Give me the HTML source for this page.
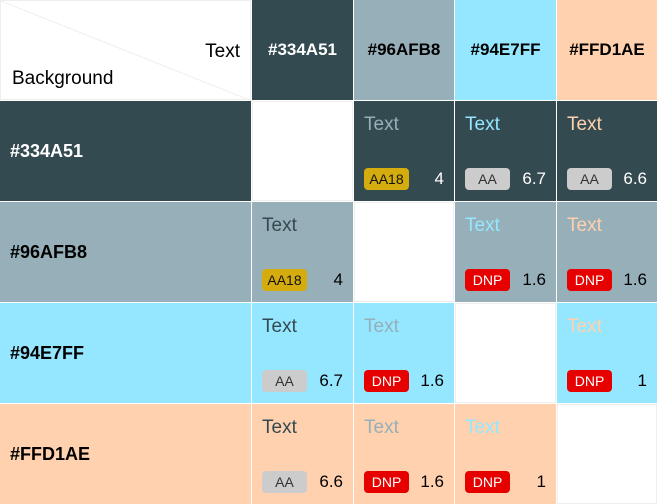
<!DOCTYPE html>
<html><head><meta charset="utf-8"><style>
body{margin:0;width:657px;height:504px;background:#fff;overflow:hidden;font-family:"Liberation Sans",sans-serif;position:relative}
.c{position:absolute;box-sizing:border-box}
.hd{font-weight:bold;font-size:17px;display:flex;align-items:center;justify-content:center}
.rl{font-weight:bold;font-size:18px;display:flex;align-items:center;padding-left:10px}
.t{position:absolute;left:10px;top:13px;font-size:19px}
.b{position:absolute;left:10px;top:67px;height:22px;line-height:22px;border-radius:4px;font-size:14px;text-align:center;width:45px}
.n{position:absolute;right:10px;top:67px;line-height:22px;font-size:17px}
</style></head><body>
<div class="c" style="left:0;top:0;width:251px;height:100px;border:1px solid #eee">
<svg width="251" height="100" style="position:absolute;left:0;top:0"><line x1="0" y1="0" x2="251" y2="100" stroke="#eee" stroke-width="1"/></svg>
<span style="position:absolute;right:10px;top:40px;font-size:19px">Text</span>
<span style="position:absolute;left:11px;top:67px;font-size:19px">Background</span>
</div>
<div id="g"></div>
<script>
const colors=['#334A51','#96AFB8','#94E7FF','#FFD1AE'];
const ratios=[[null,4,6.7,6.6],[4,null,1.6,1.6],[6.7,1.6,null,1],[6.6,1.6,1,null]];
const grades=[[null,'AA18','AA','AA'],['AA18',null,'DNP','DNP'],['AA','DNP',null,'DNP'],['AA','DNP','DNP',null]];
const xs=[252,354,455,557],ws=[101,100,101,100],ys=[101,202,303,404];
const badge={AA18:['#d4ac0d','#111'],AA:['#ccc','#333'],DNP:['#e60000','#fff']};
const g=document.getElementById('g');
function mk(cls,css,name){const d=document.createElement('div');d.className=cls;d.style.cssText=css;


return d;}
colors.forEach((c,j)=>{const h=mk('c hd',`left:${xs[j]}px;top:0;width:${ws[j]}px;height:100px;background:${c};color:${j==0?'#fff':'#000'}`,'column-header');h.textContent=c;g.appendChild(h);});
colors.forEach((bg,i)=>{
const r=mk('c rl',`left:0;top:${ys[i]}px;width:251px;height:100px;background:${bg};color:${i==0?'#fff':'#000'}`,'row-header');r.textContent=bg;g.appendChild(r);
colors.forEach((fg,j)=>{
if(i==j){g.appendChild(mk('c',`left:${xs[j]}px;top:${ys[i]}px;width:${ws[j]}px;height:100px;border:1px solid #eee;background:#fff`,'empty-cell'));return;}
const cell=mk('c',`left:${xs[j]}px;top:${ys[i]}px;width:${ws[j]}px;height:100px;background:${bg}`,'contrast-cell');
const t=mk('t',`color:${fg}`,'sample-text');t.textContent='Text';cell.appendChild(t);
const gr=grades[i][j];const b=mk('b',`background:${badge[gr][0]};color:${badge[gr][1]}`,'grade-badge');b.textContent=gr;cell.appendChild(b);
const n=mk('n',`color:${i==0?'#fff':'#000'}`,'contrast-ratio');n.textContent=ratios[i][j];cell.appendChild(n);
g.appendChild(cell);});});
</script>
</body></html>
